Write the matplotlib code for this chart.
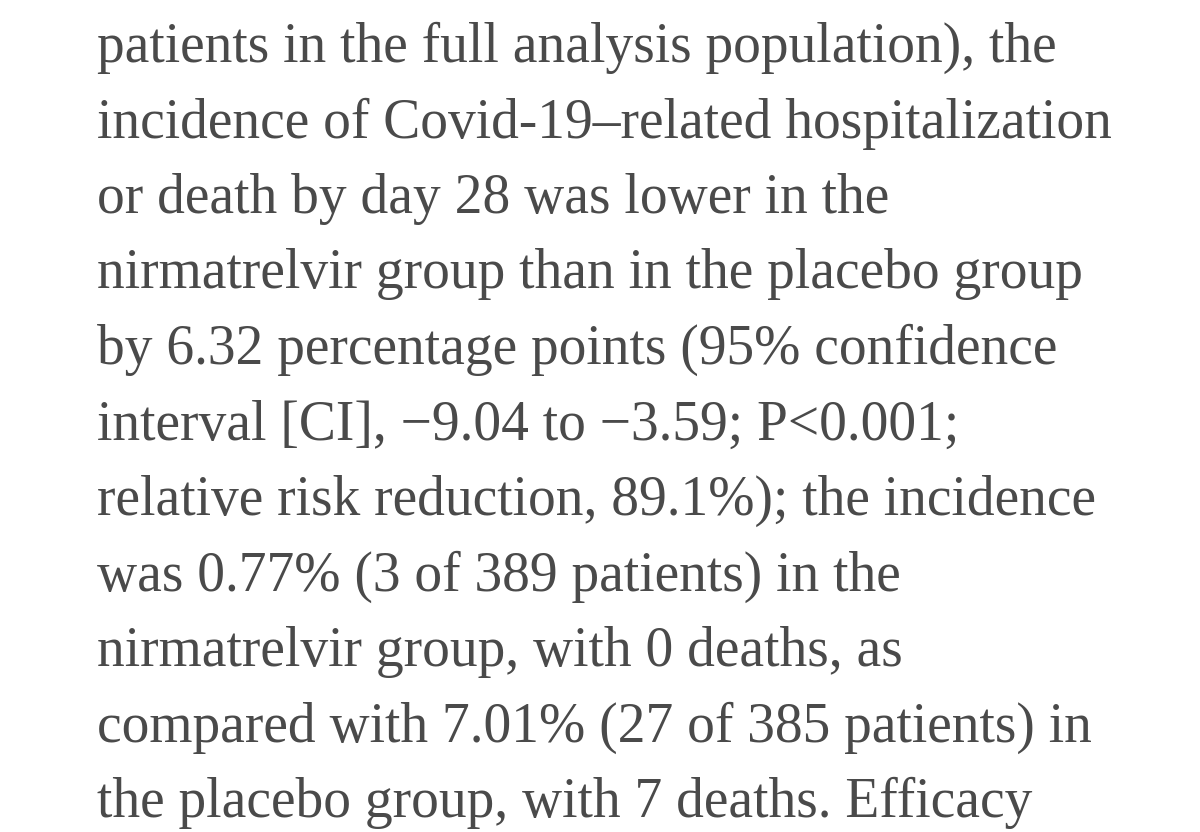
import matplotlib
matplotlib.use("Agg")
import matplotlib.pyplot as plt

lines = [
    "patients in the full analysis population), the",
    "incidence of Covid-19\u2013related hospitalization",
    "or death by day 28 was lower in the",
    "nirmatrelvir group than in the placebo group",
    "by 6.32 percentage points (95% confidence",
    "interval [CI], \u22129.04 to \u22123.59; P<0.001;",
    "relative risk reduction, 89.1%); the incidence",
    "was 0.77% (3 of 389 patients) in the",
    "nirmatrelvir group, with 0 deaths, as",
    "compared with 7.01% (27 of 385 patients) in",
    "the placebo group, with 7 deaths. Efficacy",
]

W, H = 1200, 832
fig = plt.figure(figsize=(W / 100, H / 100), dpi=100)
fig.patch.set_facecolor("white")

x0 = 97
first_base = 62
step = 75.5
for i, s in enumerate(lines):
    fig.text(x0 / W, 1 - (first_base + i * step) / H, s,
             fontsize=40, family="Liberation Serif", color="#4a4a4a",
             va="baseline", ha="left")

fig.savefig("out.png", dpi=100)
